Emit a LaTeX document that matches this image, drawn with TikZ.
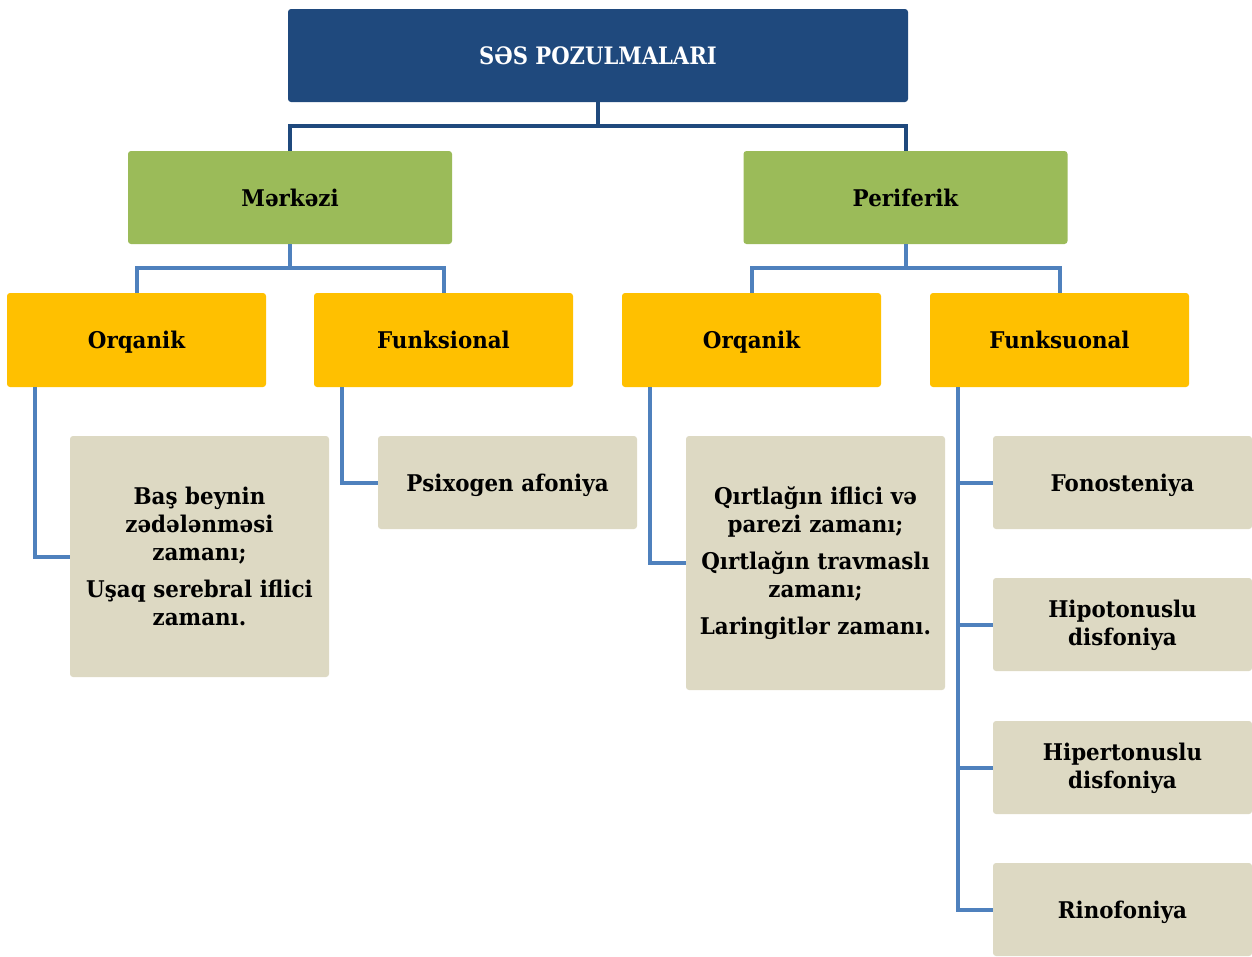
\documentclass[tikz,border=0pt]{standalone}
\usepackage{fontspec}
\setmainfont[FakeStretch=0.93]{DejaVu Serif}
\newfontfamily\titlefont[FakeStretch=0.88]{DejaVu Serif}
\begin{document}
\begin{tikzpicture}[x=1pt,y=-1pt,
  box/.style={rectangle,rounded corners=3pt,inner sep=0pt,align=center,font=\bfseries\fontsize{23}{28}\selectfont},
  oneline/.style={text height=17pt,text depth=0pt},
  topbox/.style={box,oneline,fill=topblue,text=white,minimum width=620pt,minimum height=93pt,font=\titlefont\bfseries\fontsize{24}{28}\selectfont},
  greenbox/.style={box,oneline,fill=lvgreen,minimum width=324pt,minimum height=93pt},
  orangebox/.style={box,oneline,fill=lvorange,minimum width=259pt,minimum height=94pt},
  graybox/.style={box,fill=lvgray,text width=259pt},
  conA/.style={draw=topblue,line width=4pt},
  conB/.style={draw=conblue,line width=4pt}]
\definecolor{topblue}{HTML}{1F497D}
\definecolor{conblue}{HTML}{4F81BD}
\definecolor{lvgreen}{HTML}{9BBB59}
\definecolor{lvorange}{HTML}{FFC000}
\definecolor{lvgray}{HTML}{DDD9C3}
\useasboundingbox (0,0) rectangle (1252,956);

\node[topbox] (title) at (598,55.5) {SƏS POZULMALARI};
\node[greenbox] (mk) at (290,197.5) {Mərkəzi};
\node[greenbox] (pf) at (905.5,197.5) {Periferik};

\node[orangebox] (o1) at (136.5,340) {Orqanik};
\node[orangebox] (f1) at (443.5,340) {Funksional};
\node[orangebox] (o2) at (751.5,340) {Orqanik};
\node[orangebox] (f2) at (1059.5,340) {Funksuonal};

\node[graybox,minimum height=241pt] (g1) at (199.5,556.5) {Baş beynin\\ zədələnməsi\\ zamanı;\\[9pt] Uşaq serebral iflici\\ zamanı.};
\node[graybox,oneline,minimum height=93pt] (g2) at (507.5,482.5) {Psixogen afoniya};
\node[graybox,minimum height=254pt] (g3) at (815.5,563) {Qırtlağın iflici və\\ parezi zamanı;\\[9pt] Qırtlağın travmaslı\\ zamanı;\\[9pt] Laringitlər zamanı.};

\node[graybox,oneline,minimum height=93pt] (r1) at (1122.5,482.5) {Fonosteniya};
\node[graybox,minimum height=93pt] (r2) at (1122.5,624.5) {\strut Hipotonuslu\\ disfoniya};
\node[graybox,minimum height=93pt] (r3) at (1122.5,767.5) {\strut Hipertonuslu\\ disfoniya};
\node[graybox,oneline,minimum height=93pt] (r4) at (1122.5,909.5) {Rinofoniya};

\draw[conA] (title.south) -- (title.south |- 0,126) -| (mk.north);
\draw[conA] (title.south |- 0,126) -| (pf.north);
\draw[conB] (mk.south) -- (mk.south |- 0,268) -| (o1.north);
\draw[conB] (mk.south |- 0,268) -| (f1.north);
\draw[conB] (pf.south) -- (pf.south |- 0,268) -| (o2.north);
\draw[conB] (pf.south |- 0,268) -| (f2.north);

\draw[conB] ([xshift=28pt]o1.south west) |- (g1.west);
\draw[conB] ([xshift=28pt]f1.south west) |- (g2.west);
\draw[conB] ([xshift=28pt]o2.south west) |- (g3.west);
\draw[conB] ([xshift=28pt]f2.south west) |- (r4.west);
\draw[conB] ([xshift=28pt]f2.south west) |- (r1.west);
\draw[conB] ([xshift=28pt]f2.south west) |- (r2.west);
\draw[conB] ([xshift=28pt]f2.south west) |- (r3.west);
\end{tikzpicture}
\end{document}
